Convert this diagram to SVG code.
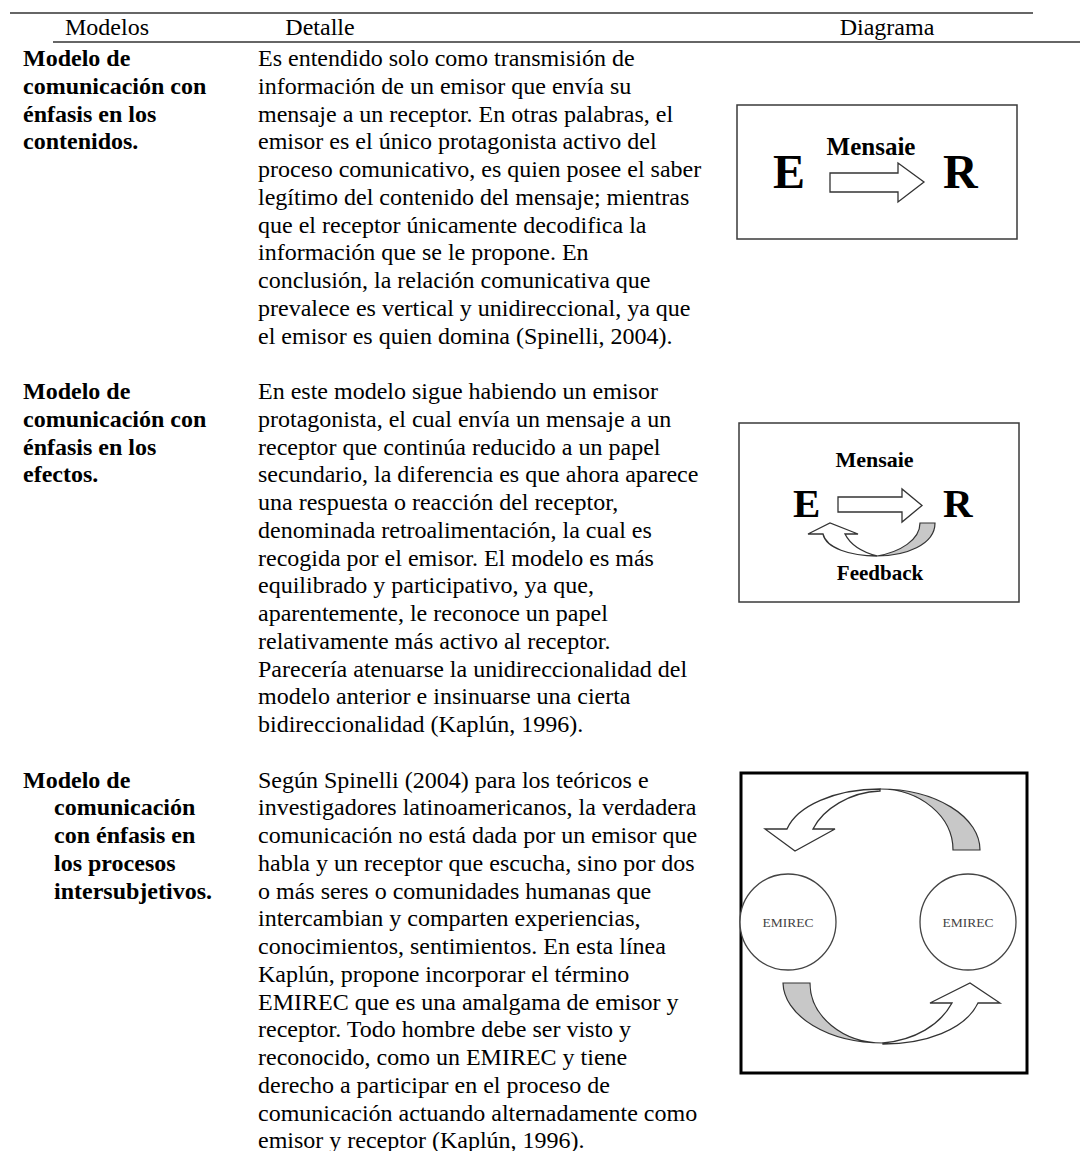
<svg xmlns="http://www.w3.org/2000/svg" width="1080" height="1151" viewBox="0 0 1080 1151">
  <style>
    .t { font-family: "Liberation Serif", "Times New Roman", serif; fill: #000; }
    .body { font-size: 24px; }
    .lbl { font-size: 24px; font-weight: bold; }
    .head { font-size: 24px; }
    .big { font-weight: bold; }
    .rule { stroke: #333; stroke-width: 1.6; }
    .frame { fill: #fff; stroke: #3a3a3a; stroke-width: 1.5; }
    .frame3 { fill: #fff; stroke: #000; stroke-width: 3; }
    .blk { fill: #fff; stroke: #333; stroke-width: 1.3; stroke-linejoin: miter; }
    .back { fill: #c8c8c8; stroke: #333; stroke-width: 1.2; }
    .circ { fill: #fff; stroke: #444; stroke-width: 1.3; }
    .emirec { font-family: "Liberation Serif", "Times New Roman", serif; font-size: 13.5px; fill: #444; }
  </style>
  <rect width="1080" height="1151" fill="#fff"/>

  <!-- table header -->
  <g id="header">
    <line class="rule" x1="10" y1="13" x2="1033" y2="13"/>
    <text class="t head" x="107" y="35" text-anchor="middle">Modelos</text>
    <text class="t head" x="320" y="35" text-anchor="middle">Detalle</text>
    <text class="t head" x="887" y="35" text-anchor="middle">Diagrama</text>
    <line class="rule" x1="53" y1="42" x2="1080" y2="42"/>
  </g>

  <!-- row 1: contents -->
  <g id="row-contenidos">
    <text class="t lbl">
      <tspan x="23" y="66">Modelo de</tspan>
      <tspan x="23" dy="27.75">comunicación con</tspan>
      <tspan x="23" dy="27.75">énfasis en los</tspan>
      <tspan x="23" dy="27.75">contenidos.</tspan>
    </text>
    <text class="t body">
      <tspan x="258" y="66">Es entendido solo como transmisión de</tspan>
      <tspan x="258" dy="27.75">información de un emisor que envía su</tspan>
      <tspan x="258" dy="27.75">mensaje a un receptor. En otras palabras, el</tspan>
      <tspan x="258" dy="27.75">emisor es el único protagonista activo del</tspan>
      <tspan x="258" dy="27.75">proceso comunicativo, es quien posee el saber</tspan>
      <tspan x="258" dy="27.75">legítimo del contenido del mensaje; mientras</tspan>
      <tspan x="258" dy="27.75">que el receptor únicamente decodifica la</tspan>
      <tspan x="258" dy="27.75">información que se le propone. En</tspan>
      <tspan x="258" dy="27.75">conclusión, la relación comunicativa que</tspan>
      <tspan x="258" dy="27.75">prevalece es vertical y unidireccional, ya que</tspan>
      <tspan x="258" dy="27.75">el emisor es quien domina (Spinelli, 2004).</tspan>
    </text>
  </g>

  <!-- row 2: effects -->
  <g id="row-efectos">
    <text class="t lbl">
      <tspan x="23" y="399">Modelo de</tspan>
      <tspan x="23" dy="27.75">comunicación con</tspan>
      <tspan x="23" dy="27.75">énfasis en los</tspan>
      <tspan x="23" dy="27.75">efectos.</tspan>
    </text>
    <text class="t body">
      <tspan x="258" y="399">En este modelo sigue habiendo un emisor</tspan>
      <tspan x="258" dy="27.75">protagonista, el cual envía un mensaje a un</tspan>
      <tspan x="258" dy="27.75">receptor que continúa reducido a un papel</tspan>
      <tspan x="258" dy="27.75">secundario, la diferencia es que ahora aparece</tspan>
      <tspan x="258" dy="27.75">una respuesta o reacción del receptor,</tspan>
      <tspan x="258" dy="27.75">denominada retroalimentación, la cual es</tspan>
      <tspan x="258" dy="27.75">recogida por el emisor. El modelo es más</tspan>
      <tspan x="258" dy="27.75">equilibrado y participativo, ya que,</tspan>
      <tspan x="258" dy="27.75">aparentemente, le reconoce un papel</tspan>
      <tspan x="258" dy="27.75">relativamente más activo al receptor.</tspan>
      <tspan x="258" dy="27.75">Parecería atenuarse la unidireccionalidad del</tspan>
      <tspan x="258" dy="27.75">modelo anterior e insinuarse una cierta</tspan>
      <tspan x="258" dy="27.75">bidireccionalidad (Kaplún, 1996).</tspan>
    </text>
  </g>

  <!-- row 3: intersubjective processes -->
  <g id="row-intersubjetivos">
    <text class="t lbl">
      <tspan x="23" y="787.5">Modelo de</tspan>
      <tspan x="54" dy="27.75">comunicación</tspan>
      <tspan x="54" dy="27.75">con énfasis en</tspan>
      <tspan x="54" dy="27.75">los procesos</tspan>
      <tspan x="54" dy="27.75">intersubjetivos.</tspan>
    </text>
    <text class="t body">
      <tspan x="258" y="787.5">Según Spinelli (2004) para los teóricos e</tspan>
      <tspan x="258" dy="27.75">investigadores latinoamericanos, la verdadera</tspan>
      <tspan x="258" dy="27.75">comunicación no está dada por un emisor que</tspan>
      <tspan x="258" dy="27.75">habla y un receptor que escucha, sino por dos</tspan>
      <tspan x="258" dy="27.75">o más seres o comunidades humanas que</tspan>
      <tspan x="258" dy="27.75">intercambian y comparten experiencias,</tspan>
      <tspan x="258" dy="27.75">conocimientos, sentimientos. En esta línea</tspan>
      <tspan x="258" dy="27.75">Kaplún, propone incorporar el término</tspan>
      <tspan x="258" dy="27.75">EMIREC que es una amalgama de emisor y</tspan>
      <tspan x="258" dy="27.75">receptor. Todo hombre debe ser visto y</tspan>
      <tspan x="258" dy="27.75">reconocido, como un EMIREC y tiene</tspan>
      <tspan x="258" dy="27.75">derecho a participar en el proceso de</tspan>
      <tspan x="258" dy="27.75">comunicación actuando alternadamente como</tspan>
      <tspan x="258" dy="27.75">emisor y receptor (Kaplún, 1996).</tspan>
    </text>
  </g>

  <!-- diagram 1: E -> R -->
  <g id="diagram-contenidos">
    <rect class="frame" x="737" y="105" width="280" height="134"/>
    <text class="t big" x="773" y="188" font-size="48">E</text>
    <text class="t big" x="871" y="155" font-size="25" text-anchor="middle">Mensaie</text>
    <text class="t big" x="943" y="188" font-size="48">R</text>
  </g>

  <!-- diagram 2: E -> R with feedback -->
  <g id="diagram-efectos">
    <rect class="frame" x="739" y="423" width="280" height="179"/>
    <text class="t big" x="874.5" y="467" font-size="22" text-anchor="middle">Mensaie</text>
    <text class="t big" x="793" y="517" font-size="41">E</text>
    <text class="t big" x="943" y="517" font-size="41">R</text>
    <text class="t big" x="880" y="580" font-size="21" text-anchor="middle">Feedback</text>
  </g>

  <!-- diagram 3: EMIREC exchange -->
  <g id="diagram-intersubjetivos">
    <rect class="frame3" x="741" y="773" width="286" height="300"/>
    <g id="emirec-left">
      <circle class="circ" cx="788" cy="922" r="48"/>
      <text class="emirec" x="788" y="927" text-anchor="middle">EMIREC</text>
    </g>
    <g id="emirec-right">
      <circle class="circ" cx="968" cy="922" r="48"/>
      <text class="emirec" x="968" y="927" text-anchor="middle">EMIREC</text>
    </g>
  </g>

  <!-- arrows -->
  <g id="connectors">
    <!-- message arrow, diagram 1 -->
    <path class="blk" d="M830,173 H898 V163 L924,182 L898,202 V192 H830 Z"/>
    <!-- message arrow, diagram 2 -->
    <path class="blk" d="M838,497 H902 V489 L922,505.5 L902,522 V512 H838 Z"/>
    <!-- feedback return arrow, diagram 2 -->
    <path class="back" d="M920,523 L935,523 C935,545 905,556 877,556 C900,552 920,540 920,523 Z"/>
    <path class="blk" d="M877,556 C850,556 826,548 823,534 L808,534 L830,523 L858,534 L845,534 C850,544 862,552 877,556 Z"/>
    <!-- upper exchange arrow, diagram 3 -->
    <path class="back" d="M880,789 A100,61 0 0 1 980,850 L953,850 A73,61 0 0 0 880,789 Z"/>
    <path class="blk" d="M880,789 C835,789 797,806 787,829 L765,829 L795,851 L835,829 L813,829 C823,809 850,792 880,791 Z"/>
    <!-- lower exchange arrow, diagram 3 -->
    <path class="back" d="M783,983 L810,983 A73,60 0 0 0 883,1043 A100,61 0 0 1 783,983 Z"/>
    <path class="blk" d="M883,1044 C925,1044 965,1030 978,1003 L1000,1003 L970,983 L930,1003 L952,1003 C940,1025 915,1040 883,1043 Z"/>
  </g>
</svg>
